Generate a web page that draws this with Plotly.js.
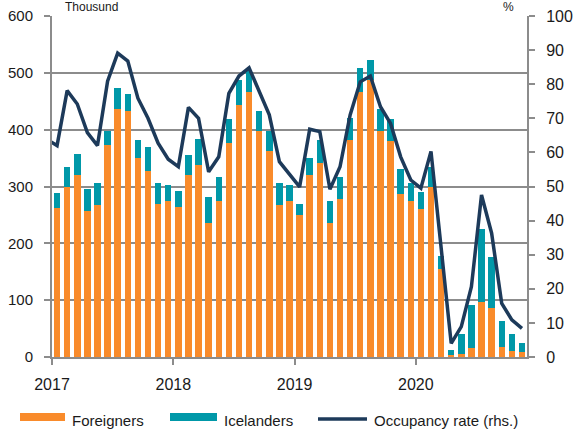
<!DOCTYPE html>
<html>
<head>
<meta charset="utf-8">
<script src="https://cdn.plot.ly/plotly-3.0.1.min.js"></script>
<style>html,body{margin:0;padding:0;background:#fff;}#chart{width:576px;height:433px;}</style>
</head>
<body>
<div id="chart"></div>
<script>
// Months Jan 2017 - Nov 2020
const months = [
 '2017-01','2017-02','2017-03','2017-04','2017-05','2017-06','2017-07','2017-08','2017-09','2017-10','2017-11','2017-12',
 '2018-01','2018-02','2018-03','2018-04','2018-05','2018-06','2018-07','2018-08','2018-09','2018-10','2018-11','2018-12',
 '2019-01','2019-02','2019-03','2019-04','2019-05','2019-06','2019-07','2019-08','2019-09','2019-10','2019-11','2019-12',
 '2020-01','2020-02','2020-03','2020-04','2020-05','2020-06','2020-07','2020-08','2020-09','2020-10','2020-11'
];
// Overnight stays, thousand
const foreigners = [
 263,299,320,257,268,373,436,432,351,327,270,275,
 264,320,338,235,275,376,443,467,397,362,268,275,
 250,320,341,235,278,382,467,487,397,380,286,275,
 260,299,154,4,5,15,96,86,18,11,8
];
const icelanders = [
 25,35,38,38,38,24,38,31,31,42,36,27,
 28,36,45,46,41,42,44,38,35,35,38,27,
 20,31,41,40,38,38,42,36,39,38,44,31,
 31,36,23,8,35,77,129,90,45,29,17
];
// Occupancy rate (%), first value is Dec 2016 (partly visible at left edge)
const occMonths = ['2016-12'].concat(months);
const occupancy = [
 63.8,
 62.0,78.1,74.2,65.8,62.0,80.9,89.1,86.8,75.9,70.0,62.7,58.0,
 55.8,73.2,70.0,54.3,58.7,77.3,82.4,84.8,77.8,71.0,57.3,53.6,
 49.9,66.8,66.1,49.2,55.8,71.0,80.7,82.4,73.4,68.5,58.7,51.9,
 49.5,60.3,32.0,4.0,8.9,20.6,47.5,36.3,15.7,10.9,8.4
];
const yearLabels = ['2017','2018','2019','2020'];

// month string -> index (Jan 2017 = 0)
function idx(m){ const [y,mo]=m.split('-').map(Number); return (y-2017)*12+(mo-1); }
const xBars = months.map(idx);
const xOcc = occMonths.map(idx);
const yearTicks = yearLabels.map(y => idx(y+'-01') - 0.5);

const ORANGE='#F98B2B', TEAL='#0098A8', NAVY='#1D3A5A', GRID='#8C8C8C';
const FONT='Liberation Sans, Arial, sans-serif';

const traces = [
 {type:'bar', x:xBars, y:foreigners, name:'Foreigners', marker:{color:ORANGE}, yaxis:'y', hoverinfo:'skip'},
 {type:'bar', x:xBars, y:icelanders, name:'Icelanders', marker:{color:TEAL}, yaxis:'y', hoverinfo:'skip'},
 {type:'scatter', mode:'lines', x:xOcc, y:occupancy, name:'Occupancy rate (rhs.)', yaxis:'y2',
  line:{color:NAVY, width:3.5}, hoverinfo:'skip'}
];

// pixel -> paper helpers (plot area: x 52..527, y 16..357)
const L=52, R=527, T=16, B=357;
const px = p => (p-L)/(R-L);
const py = p => (B-p)/(B-T);

const legendItems = [
 {kind:'rect', color:ORANGE, x0:20, x1:65, tx:70, text:'Foreigners'},
 {kind:'rect', color:TEAL, x0:170, x1:217, tx:222, text:'Icelanders'},
 {kind:'line', color:NAVY, x0:318, x1:367, tx:372, text:'Occupancy rate (rhs.)'}
];
const shapes=[], annotations=[];
legendItems.forEach(it=>{
  if(it.kind==='rect'){
    shapes.push({type:'rect', xref:'paper', yref:'paper', x0:px(it.x0), x1:px(it.x1), y0:py(421), y1:py(413),
      fillcolor:it.color, line:{width:0}});
  } else {
    shapes.push({type:'line', xref:'paper', yref:'paper', x0:px(it.x0), x1:px(it.x1), y0:py(419), y1:py(419),
      line:{color:it.color, width:3.5}});
  }
  annotations.push({xref:'paper', yref:'paper', x:px(it.tx), y:py(420), xanchor:'left', yanchor:'middle',
    text:it.text, showarrow:false, font:{family:FONT, size:15, color:'#1a1a1a'}});
});
annotations.push({xref:'paper', yref:'paper', x:px(63), y:py(7), xanchor:'left', yanchor:'middle',
  text:'Thousund', showarrow:false, font:{family:FONT, size:12, color:'#1a1a1a'}});
annotations.push({xref:'paper', yref:'paper', x:px(508), y:py(7), xanchor:'center', yanchor:'middle',
  text:'%', showarrow:false, font:{family:FONT, size:12, color:'#1a1a1a'}});

const layout = {
  width:576, height:433,
  margin:{l:L, r:576-R, t:T, b:433-B, pad:0},
  paper_bgcolor:'#fff', plot_bgcolor:'#fff',
  barmode:'stack', bargap:0.36,
  showlegend:false,
  font:{family:FONT, size:15, color:'#1a1a1a'},
  xaxis:{range:[-0.5, 46.5], tickmode:'array', tickvals:yearTicks, ticktext:yearLabels,
    showgrid:false, zeroline:false, showline:true, linecolor:GRID, linewidth:2,
    ticks:'outside', ticklen:6, tickwidth:2, tickcolor:GRID, ticklabelstandoff:6,
    tickfont:{family:FONT, size:16, color:'#1a1a1a'}, fixedrange:true},
  yaxis:{range:[0,600], dtick:100, tick0:0, showgrid:true, gridcolor:GRID, gridwidth:2,
    zeroline:false, showline:true, linecolor:GRID, linewidth:2,
    ticks:'outside', ticklen:6, tickwidth:2, tickcolor:GRID, ticklabelstandoff:8,
    tickfont:{family:FONT, size:15, color:'#1a1a1a'}},
  yaxis2:{range:[0,100], dtick:10, tick0:0, overlaying:'y', side:'right', showgrid:false,
    zeroline:false, showline:true, linecolor:GRID, linewidth:2,
    ticks:'outside', ticklen:6, tickwidth:2, tickcolor:GRID, ticklabelstandoff:8,
    tickfont:{family:FONT, size:16, color:'#1a1a1a'}},
  shapes:shapes, annotations:annotations
};
Plotly.newPlot('chart', traces, layout, {staticPlot:true, displayModeBar:false});
</script>
</body>
</html>
